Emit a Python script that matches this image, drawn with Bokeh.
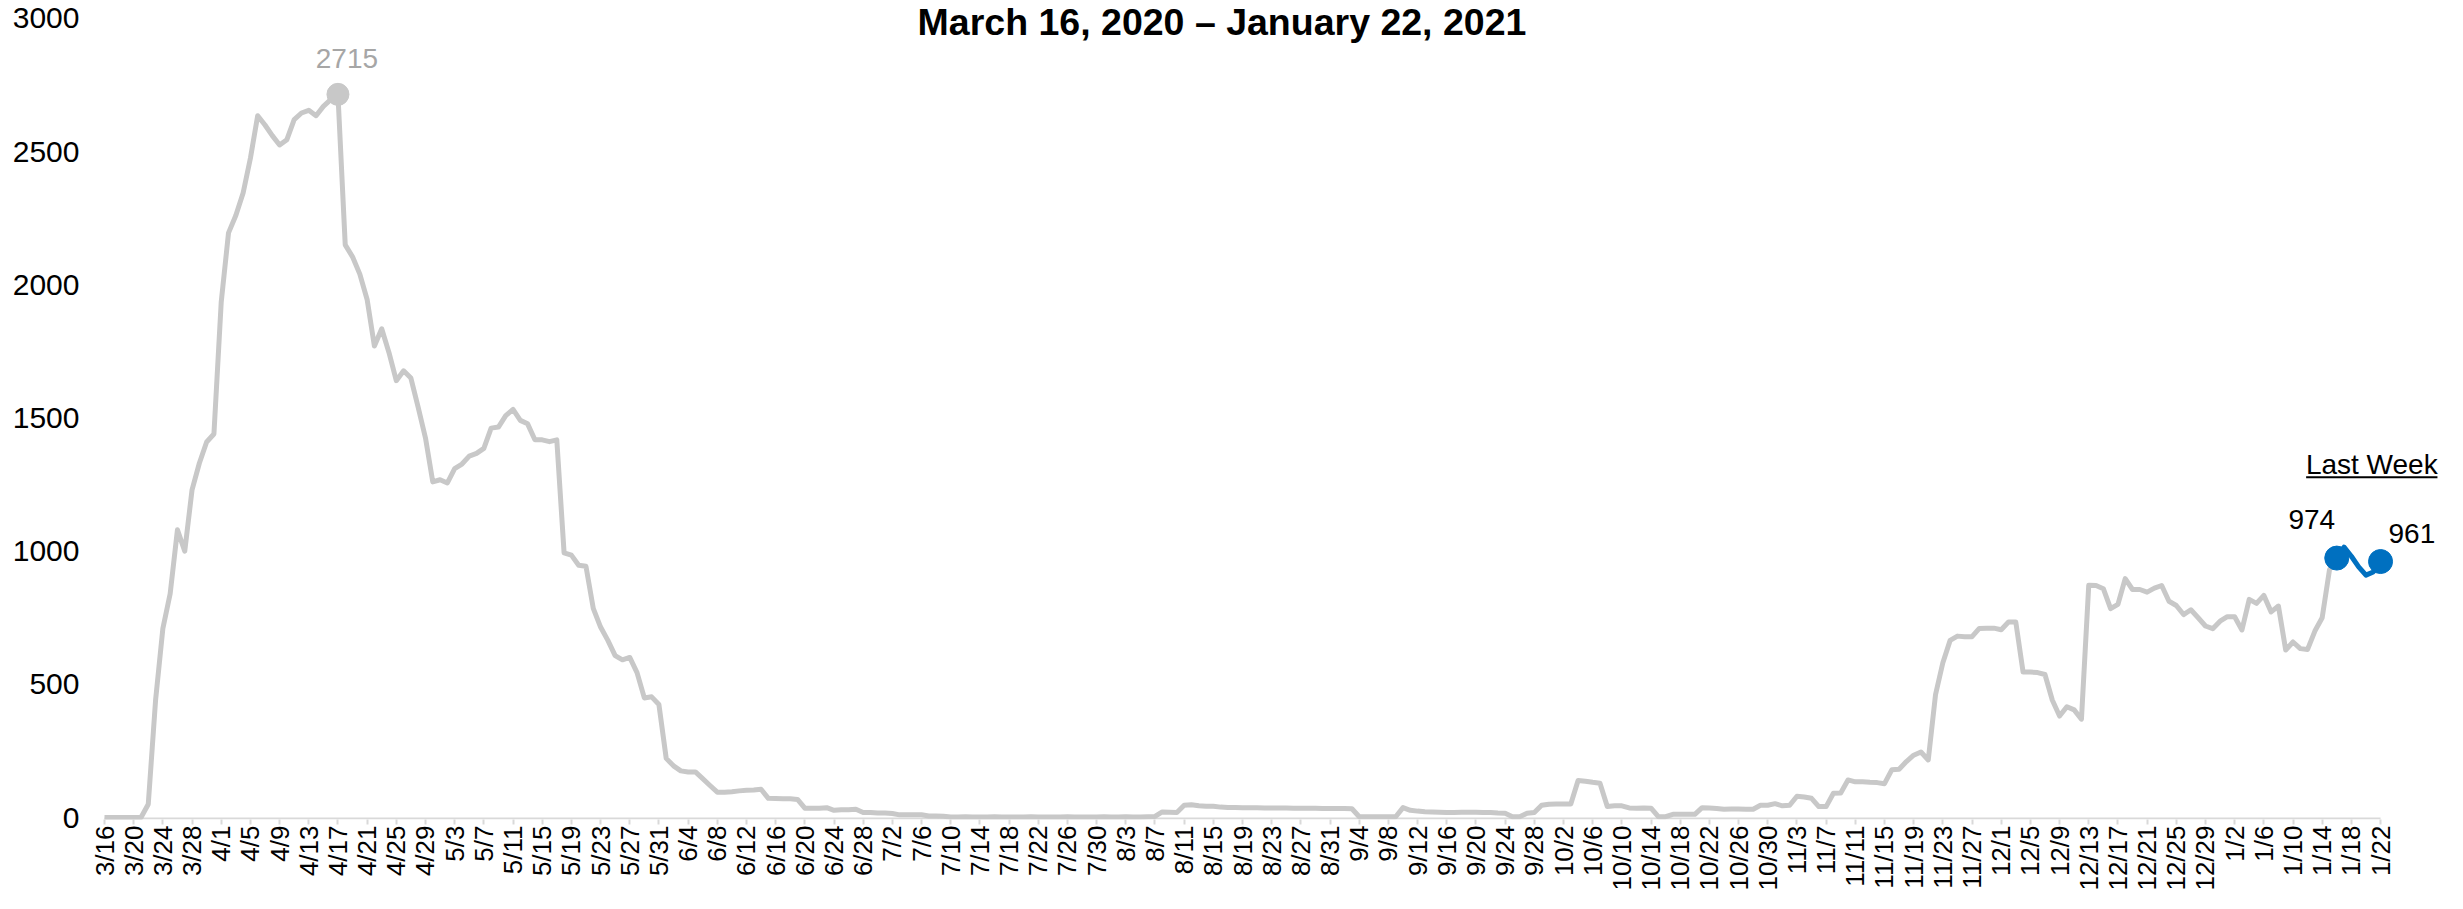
import math
import datetime as dt
from bokeh.plotting import figure
from bokeh.models import Range1d, FixedTicker, Label
from bokeh.embed import file_html
from bokeh.resources import INLINE

# ---------------- data ----------------
start_date = dt.date(2020, 3, 16)
title_text = "March 16, 2020 \u2013 January 22, 2021"

cases_mar = [0, 0, 0, 0, 0, 0, 50, 440, 710, 840, 1080, 1000, 1230, 1330, 1410, 1440]
cases_apr = [1935, 2195, 2260, 2345, 2475, 2635, 2600, 2560, 2525, 2545, 2620, 2645, 2655, 2635, 2670,
             2695, 2715, 2150, 2105, 2040, 1945, 1770, 1835, 1745, 1640, 1677, 1650, 1540, 1425, 1260]
cases_may = [1268, 1256, 1310, 1327, 1357, 1367, 1386, 1462, 1466, 1509, 1532, 1491, 1478, 1418, 1418,
             1411, 1418, 994, 985, 947, 943, 785, 715, 665, 608, 592, 601, 544, 449, 453, 424]
cases_jun = [222, 194, 175, 171, 171, 146, 120, 95, 95, 97, 100, 102, 103, 106, 72,
             71, 70, 70, 68, 35, 35, 35, 37, 27, 29, 29, 31, 19, 19, 17]
cases_jul = [17, 15, 10, 10, 10, 10, 6, 6, 5, 2, 2, 3, 2, 2, 2,
             3, 2, 2, 2, 2, 3, 2, 2, 2, 2, 3, 2, 2, 2, 2, 3]
cases_aug = [2, 2, 3, 2, 2, 3, 4, 21, 20, 19, 46, 48, 44, 42, 42,
             39, 38, 38, 37, 37, 37, 36, 36, 36, 36, 35, 35, 35, 35, 34, 34]
cases_sep = [34, 34, 33, 3, 3, 3, 3, 3, 3, 37, 27, 24, 22, 21, 20,
             19, 19, 20, 20, 20, 19, 19, 17, 16, 3, 3, 16, 19, 46, 50]
cases_oct = [51, 51, 51, 139, 136, 132, 129, 41, 44, 44, 36, 35, 36, 35, 3,
             3, 12, 12, 12, 12, 37, 36, 34, 31, 32, 32, 31, 31, 46, 46, 52]
cases_nov = [44, 46, 80, 77, 72, 41, 41, 91, 92, 141, 134, 134, 132, 131, 127,
             179, 181, 210, 234, 246, 216, 462, 581, 665, 681, 679, 679, 710, 711, 711]
cases_dec = [705, 734, 734, 546, 546, 544, 537, 441, 381, 416, 404, 369, 872, 871, 859,
             784, 800, 897, 856, 856, 846, 861, 871, 812, 796, 762, 780, 750, 719, 709, 737]
cases_jan = [754, 754, 704, 819, 804, 834, 772, 794, 629, 659, 634, 631, 700, 750, 930,
             974, 1015, 981, 941, 910, 922, 961]

cases = (cases_mar + cases_apr + cases_may + cases_jun + cases_jul + cases_aug +
         cases_sep + cases_oct + cases_nov + cases_dec + cases_jan)
days = list(range(len(cases)))
dates = [start_date + dt.timedelta(days=d) for d in days]

tick_days = days[::4]
tick_labels = [f"{dates[d].month}/{dates[d].day}" for d in tick_days]
y_ticks = [0, 500, 1000, 1500, 2000, 2500, 3000]
last_week_len = 7
last_week_title = "Last Week"

# ---------------- layout / style ----------------
FONT = "Liberation Sans"
GRAY = "#c8c8c8"
BLUE = "#0070C0"
W, H = 2447, 893
BORDER_L, BORDER_B, BORDER_T = 95, 72, 0
PX_DAY = 7.295          # pixels per day
PX_VAL = 0.267          # pixels per case
ZERO_PX = 819           # canvas y of value 0
frame_w = W - BORDER_L
frame_h = H - BORDER_B - BORDER_T
x_start = -9 / PX_DAY
x_end = x_start + frame_w / PX_DAY
y_start = -(BORDER_T + frame_h - ZERO_PX) / PX_VAL
y_end = y_start + frame_h / PX_VAL


def val_at(cy):
    """data value at canvas y (for placing annotations)"""
    return (ZERO_PX - cy) / PX_VAL


p = figure(width=W, height=H, output_backend="svg", toolbar_location=None,
           x_range=Range1d(x_start, x_end), y_range=Range1d(y_start, y_end),
           min_border_left=BORDER_L, min_border_right=0,
           min_border_top=BORDER_T, min_border_bottom=BORDER_B)
p.outline_line_color = None
p.xgrid.grid_line_color = None
p.ygrid.grid_line_color = None
p.background_fill_color = "white"
p.border_fill_color = "white"

# y axis
p.yaxis.ticker = FixedTicker(ticks=y_ticks)
p.yaxis.axis_line_color = None
p.yaxis.major_tick_line_color = None
p.yaxis.minor_tick_line_color = None
p.yaxis.major_label_text_font = FONT
p.yaxis.major_label_text_font_size = "30px"
p.yaxis.major_label_text_color = "#000000"
p.yaxis.major_label_standoff = 10

# x axis
p.xaxis.ticker = FixedTicker(ticks=tick_days)
p.xaxis.major_label_overrides = {d: lab for d, lab in zip(tick_days, tick_labels)}
p.xaxis.major_label_orientation = math.pi / 2
p.xaxis.axis_line_color = None
p.xaxis.major_tick_line_color = "#d9d9d9"
p.xaxis.major_tick_line_width = 2
p.xaxis.major_tick_in = 0
p.xaxis.major_tick_out = 5
p.xaxis.minor_tick_line_color = None
p.xaxis.major_label_text_font = FONT
p.xaxis.major_label_text_font_size = "26px"
p.xaxis.major_label_text_color = "#000000"
p.xaxis.major_label_standoff = 1

# axis line from first to last date
axis_y = y_start / 2
p.segment(x0=[days[0]], x1=[days[-1]], y0=[axis_y], y1=[axis_y], line_color="#d9d9d9", line_width=2)

# series
lw = len(cases) - last_week_len
p.line(days[:lw + 1], cases[:lw + 1], line_color=GRAY, line_width=5, line_join="round")
p.line(days[lw:], cases[lw:], line_color=BLUE, line_width=5, line_join="round")

peak_val = max(cases)
peak_day = days[cases.index(peak_val)]
p.scatter([peak_day], [peak_val], size=22, fill_color=GRAY, line_color=GRAY)
p.scatter([days[lw], days[-1]], [cases[lw], cases[-1]], size=24, fill_color=BLUE, line_color=BLUE)


def lab(x, y, text, color="#000000", size="28px", align="center", baseline="bottom",
        xo=0, yo=0, style="normal"):
    p.add_layout(Label(x=x, y=y, text=text, text_color=color, text_font=FONT,
                       text_font_size=size, text_align=align, text_baseline=baseline,
                       x_offset=xo, y_offset=yo, text_font_style=style))


lab(peak_day, peak_val, str(peak_val), color="#a6a6a6", xo=9, yo=26)
lab(days[lw], cases[lw], str(cases[lw]), xo=-25, yo=29)
lab(days[-1], cases[-1], str(cases[-1]), align="left", xo=8, yo=19)

# Last Week heading with underline
lw_center = days[-1] - 1.2
lab(lw_center, val_at(465), last_week_title, baseline="middle")
p.segment(x0=[lw_center - 9.0], x1=[lw_center + 9.0], y0=[val_at(478)], y1=[val_at(478)],
          line_color="#000000", line_width=2)

# title (centered on canvas)
title_x = x_start + (W / 2 - 2 - BORDER_L) / PX_DAY
lab(title_x, val_at(22), title_text, size="37.5px", baseline="middle", style="bold")

open("out.html", "w").write(file_html(p, INLINE))
